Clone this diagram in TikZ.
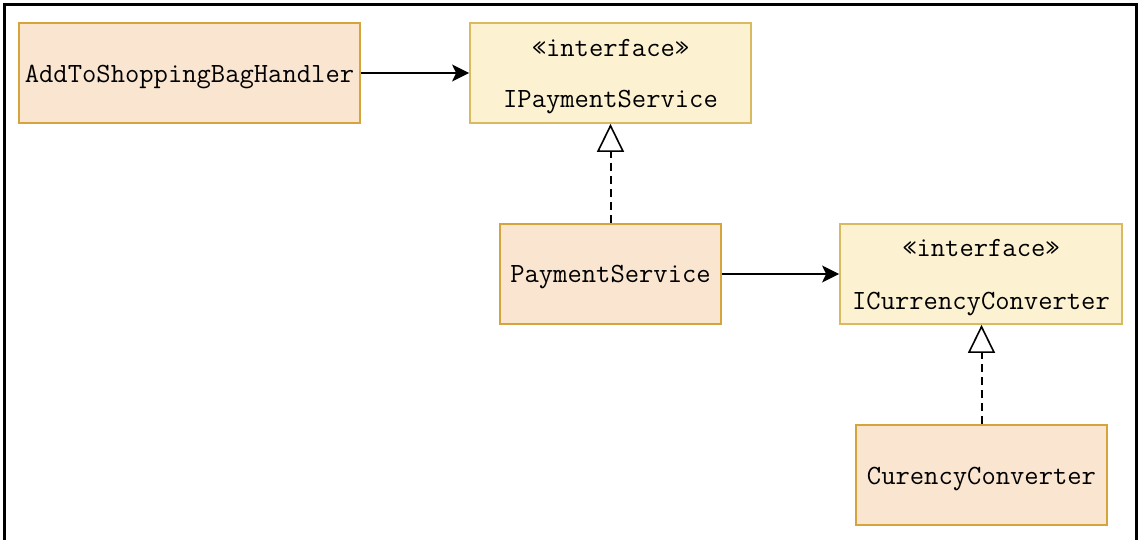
\documentclass[tikz,border=0pt]{standalone}
\usepackage{fontspec}
\usetikzlibrary{arrows.meta}
\definecolor{implfill}{RGB}{250,230,208}
\definecolor{impldraw}{RGB}{214,164,60}
\definecolor{ifill}{RGB}{252,242,210}
\definecolor{idraw}{RGB}{216,186,96}
\tikzset{
  box/.style={draw, line width=1.8pt, inner sep=0pt},
  implbox/.style={box, fill=implfill, draw=impldraw},
  ifbox/.style={box, fill=ifill, draw=idraw},
  assoc/.style={line width=1.8pt, -{Stealth[length=17pt,width=17pt,inset=4pt]}},
  realize/.style={line width=2pt, dash pattern=on 8pt off 5pt, -{Triangle[open,length=28pt,width=27pt,line width=1.6pt]}},
  lbl/.style={font=\ttfamily\fontsize{27.8}{33}\selectfont, inner sep=0pt, anchor=base}
}
\begin{document}
\begin{tikzpicture}[x=1pt,y=-1pt]
\useasboundingbox (0,0) rectangle (1141,540);
\fill[white] (0,0) rectangle (1141,540);
\draw[line width=3pt] (4.5,545) -- (4.5,4.5) -- (1136.5,4.5) -- (1136.5,545);
% boxes
\node[implbox, minimum width=341pt, minimum height=100pt] (handler) at (189.5,73) {};
\node[lbl] (handlerN) at (189.5,83) {AddToShoppingBagHandler};
\node[ifbox, minimum width=281pt, minimum height=100pt] (ipay) at (610.5,73) {};
\node[lbl] (ipayS) at (610.5,57) {«interface»};
\node[lbl] (ipayN) at (610.5,108) {IPaymentService};
\node[implbox, minimum width=221pt, minimum height=100pt] (pay) at (610.5,274) {};
\node[lbl] (payN) at (610.5,283) {PaymentService};
\node[ifbox, minimum width=282pt, minimum height=100pt] (icur) at (981,274) {};
\node[lbl] (icurS) at (981,257) {«interface»};
\node[lbl] (icurN) at (981,309) {ICurrencyConverter};
\node[implbox, minimum width=251pt, minimum height=100pt] (cur) at (981.5,475) {};
\node[lbl] (curN) at (981.5,484) {CurencyConverter};
% connectors
\draw[assoc] (handler.east) -- (ipay.west);
\draw[assoc] (pay.east) -- (pay.east -| icur.west);
\draw[realize] (pay.north) -- (ipay.south);
\draw[realize] (cur.north) -- (cur.north |- icur.south);
\end{tikzpicture}
\end{document}
